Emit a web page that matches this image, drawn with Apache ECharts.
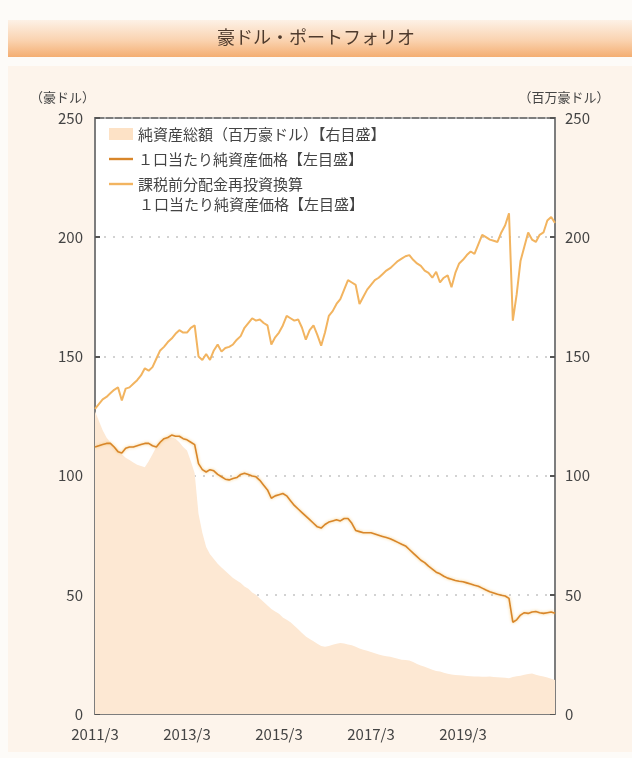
<!DOCTYPE html>
<html><head><meta charset="utf-8">
<script src="https://cdn.jsdelivr.net/npm/echarts@6/dist/echarts.min.js"></script>
<style>html,body{margin:0;padding:0;background:#fdfbf8;}#c{width:632px;height:758px;}</style>
</head><body><div id="c"></div>
<script>
// categories: month-end labels 2011/3 .. 2021/3
const months = [];
for (let i = 0; i <= 120; i++) { const m = 2 + i; months.push((2011 + Math.floor(m / 12)) + '/' + (m % 12 + 1)); }
const yTicksLeft = [0, 50, 100, 150, 200, 250];

const totalAssets = [127,123,119,116,114,112.5,111,109,107.5,106.5,105.5,104.5,104,103.5,106,109,112,114.5,115.5,116,116,115.5,114,112,110.5,106,101,84,76,70,67,65,63,61.5,60,58.5,57,56,55,53.5,52.5,51,50,48.5,47,45.5,44,43,42,40.5,39.5,38.5,37,35.5,34,32.5,31.5,30.5,29.5,28.5,28.2,28.5,29,29.5,29.8,29.6,29.2,28.8,28.2,27.5,27,26.5,26,25.5,25,24.5,24.2,24,23.6,23.2,22.8,22.6,22.4,21.8,21,20.3,19.8,19.2,18.6,18,17.8,17.3,16.9,16.6,16.4,16.3,16.1,15.9,15.8,15.7,15.7,15.6,15.6,15.7,15.5,15.4,15.3,15.2,15,15.5,15.8,16,16.5,16.8,17,16.5,16,15.7,15.3,14.8,14.3];

const navPrice = [112,112.5,113,113.5,113.5,112,110,109.5,111.5,112,112,112.5,113,113.5,113.5,112.5,112,114,115.5,116,117,116.5,116.5,115.5,115,114,113,105,102.5,101.5,102.5,102,100.5,99.5,98.5,98.2,98.8,99.2,100.5,101,100.5,99.8,99.5,98,96,94,90.5,91.5,92,92.5,91.5,89.5,87.5,86,84.5,83,81.5,80,78.5,78,79.5,80.5,81,81.5,81,82,82,80,77,76.5,76,76,76,75.5,75,74.5,74,73.5,72.8,72,71.2,70.5,69,67.5,66,64.5,63.5,62,60.8,59.5,58.8,57.8,57,56.5,56,55.7,55.5,55,54.5,54,53.6,52.8,52,51.3,50.8,50.2,49.8,49.5,48.5,38.5,39.5,41.5,42.5,42.2,42.8,43,42.5,42.2,42.5,42.8,42.3];

const navReinvested = [128,130,132,133,134.5,136,137,131.5,136.5,137,138.5,140,142,145,144,145.5,149,152.5,154,156,157.5,159.5,161,160,160,162,163,150,148.5,151,148.5,152.5,155,152,153.5,154,155,157,158.5,162,164,166,165,165.5,164,163,155,158,160,163,167,166,165,165.5,162,157,161,163,159,154.5,160,167,169,172,174,178,182,181,180,172,175,178,180,182,183,184.5,186,187,188.5,190,191,192,192.5,190.5,189,188,186,185,183,185.5,181,183,184,179,185,189,190.5,192.5,194,193,197,201,200,199,198.5,198,202,205,210,165,176,190,196,202,199,198,201,202,207,208.5,206];

const seriesNames = ['純資産総額（百万豪ドル）【右目盛】','１口当たり純資産価格【左目盛】','課税前分配金再投資換算\n１口当たり純資産価格【左目盛】'];

const chart = echarts.init(document.getElementById('c'), null, {renderer: 'canvas'});
const FONT = '"Noto Sans CJK JP", "Noto Sans", sans-serif';
const axisGray = '#7d7d7d';
const lineIcon = 'path://M0,0 L24,0 L24,2.4 L0,2.4 Z';
function yAxis(pos, name, nameStyle) {
  return {
    type: 'value', position: pos, min: 0, max: 250, interval: 50,
    name: name, nameLocation: 'end', nameGap: 14,
    nameTextStyle: Object.assign({color: '#444', fontSize: 13, fontFamily: FONT}, nameStyle),
    axisLine: {show: true, lineStyle: {color: axisGray, width: 2}},
    axisTick: {show: true, inside: true, length: 5, lineStyle: {color: '#555', width: 2}},
    axisLabel: {color: '#444', fontSize: 15, fontFamily: FONT, margin: pos === 'left' ? 12 : 10},
    splitLine: {show: pos === 'left', lineStyle: {color: '#c4c4c4', type: [2, 7], width: 1.5}}
  };
}
chart.setOption({
  backgroundColor: '#fdfbf8',
  animation: false,
  graphic: [
    {type: 'rect', z: -10, shape: {x: 8, y: 20, width: 624, height: 37},
     style: {fill: new echarts.graphic.LinearGradient(0, 0, 0, 1, [
       {offset: 0, color: '#fdf1e6'}, {offset: 0.55, color: '#fad3b0'}, {offset: 1, color: '#f4ae72'}])}},
    {type: 'rect', z: -10, shape: {x: 8, y: 66, width: 624, height: 686}, style: {fill: '#fdf4eb'}},
    {type: 'text', z: 10, left: 139, top: 197,
     style: {text: '１口当たり純資産価格【左目盛】', fill: '#444', fontSize: 15, fontFamily: FONT}}
  ],
  title: {text: '豪ドル・ポートフォリオ', left: 'center', top: 23,
    textStyle: {color: '#4e3a2c', fontSize: 18, fontWeight: 'normal', fontFamily: FONT}},
  legend: {
    orient: 'vertical', left: 104, top: 119, itemGap: 5, itemWidth: 24, itemHeight: 12,
    textStyle: {color: '#444', fontSize: 15, lineHeight: 20, fontFamily: FONT},
    formatter: function (n) { return n.split('\n')[0]; },
    data: [
      {name: seriesNames[0], icon: 'rect', itemStyle: {color: '#fde2c6'}},
      {name: seriesNames[1], icon: lineIcon, itemStyle: {color: '#d8862a'}},
      {name: seriesNames[2], icon: lineIcon, itemStyle: {color: '#f2b460'}}
    ]
  },
  grid: {left: 95, right: 77, top: 118, bottom: 44, show: true, backgroundColor: '#ffffff',
    borderColor: axisGray, borderWidth: 2},
  xAxis: {
    type: 'category', data: months, boundaryGap: false,
    axisLine: {lineStyle: {color: axisGray, width: 2}},
    axisTick: {inside: true, length: 5, lineStyle: {color: '#555', width: 2},
      interval: function (i) { return i % 24 === 0 && i > 0 && i < 120; }},
    axisLabel: {color: '#444', fontSize: 15, fontFamily: FONT, margin: 13,
      interval: function (i) { return i % 24 === 0 && i <= 96; }},
    splitLine: {show: false}
  },
  yAxis: [
    yAxis('left', '（豪ドル）', {align: 'right', padding: [0, 0, 0, 0]}),
    yAxis('right', '（百万豪ドル）', {align: 'center', padding: [0, 0, 0, 18]})
  ],
  series: [
    {name: seriesNames[0], type: 'line', yAxisIndex: 1, data: totalAssets, symbol: 'none',
     lineStyle: {width: 0}, itemStyle: {color: '#fde2c6'}, areaStyle: {color: '#fde8d3', opacity: 1}, z: 1},
    {name: seriesNames[1], type: 'line', yAxisIndex: 0, data: navPrice, symbol: 'none',
     lineStyle: {color: '#d8862a', width: 1.6, shadowColor: 'rgba(245,190,90,0.8)', shadowBlur: 3},
     itemStyle: {color: '#d8862a'}, z: 3},
    {name: seriesNames[2], type: 'line', yAxisIndex: 0, data: navReinvested, symbol: 'none',
     lineStyle: {color: '#f2b460', width: 2}, itemStyle: {color: '#f2b460'}, z: 2}
  ]
});
</script></body></html>
